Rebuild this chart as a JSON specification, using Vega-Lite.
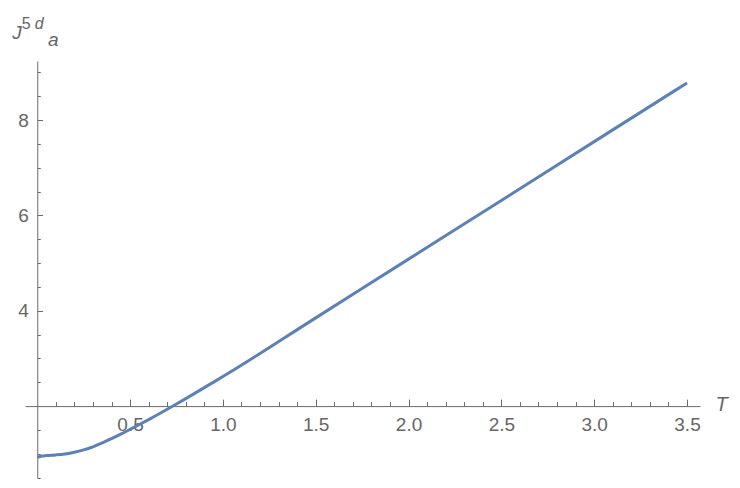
{
  "$schema": "https://vega.github.io/schema/vega-lite/v6.json",
  "width": 675,
  "height": 417,
  "autosize": {"type": "none"},
  "padding": {"left": 25, "top": 61, "right": 40, "bottom": 10},
  "background": "white",
  "config": {
    "view": {"stroke": null},
    "axis": {
      "grid": false,
      "labelFont": "Liberation Sans",
      "titleFont": "Liberation Sans",
      "labelColor": "#666666",
      "titleColor": "#666666",
      "domainColor": "#6b6b6b",
      "tickColor": "#6b6b6b",
      "domainWidth": 1,
      "tickWidth": 1,
      "titleFontWeight": "normal"
    }
  },
  "data": {
    "values": [
      {"T": 0, "J": 0.925},
      {"T": 0.02, "J": 0.948},
      {"T": 0.05, "J": 0.962},
      {"T": 0.1, "J": 0.975},
      {"T": 0.15, "J": 0.995},
      {"T": 0.2, "J": 1.03},
      {"T": 0.25, "J": 1.08},
      {"T": 0.3, "J": 1.145},
      {"T": 0.35, "J": 1.225},
      {"T": 0.4, "J": 1.315},
      {"T": 0.45, "J": 1.41},
      {"T": 0.5, "J": 1.51},
      {"T": 0.55, "J": 1.612},
      {"T": 0.6, "J": 1.716},
      {"T": 0.65, "J": 1.823},
      {"T": 0.7, "J": 1.932},
      {"T": 0.75, "J": 2.043},
      {"T": 0.8, "J": 2.156},
      {"T": 0.85, "J": 2.271},
      {"T": 0.9, "J": 2.387},
      {"T": 0.95, "J": 2.502},
      {"T": 1.0, "J": 2.618},
      {"T": 1.5, "J": 3.85},
      {"T": 2.0, "J": 5.083},
      {"T": 2.5, "J": 6.315},
      {"T": 3.0, "J": 7.548},
      {"T": 3.5, "J": 8.78}
    ]
  },
  "resolve": {"axis": {"x": "independent", "y": "independent"}},
  "layer": [
    {
      "mark": {"type": "line", "strokeOpacity": 0},
      "encoding": {
        "x": {"field": "T", "type": "quantitative", "scale": {"domain": [-0.066, 3.57], "nice": false, "zero": false},
          "axis": {"orient": "bottom", "offset": -71.9, "values": [0.1,0.2,0.3,0.4,0.6,0.7,0.8,0.9,1.1,1.2,1.3,1.4,1.6,1.7,1.8,1.9,2.1,2.2,2.3,2.4,2.6,2.7,2.8,2.9,3.1,3.2,3.3,3.4],
            "labels": false, "domain": false, "tickSize": -4.5,
            "title": "a", "titleFontSize": 19, "titleFontStyle": "italic", "titleAngle": 0, "titleAlign": "left", "titleBaseline": "alphabetic", "titleX": 22.5, "titleY": -360.5}},
        "y": {"field": "J", "type": "quantitative", "scale": {"domain": [0.49, 9.24], "nice": false, "zero": false},
          "axis": {"orient": "left", "offset": -12.25, "values": [0.5,1,1.5,2.5,3,3.5,4.5,5,5.5,6.5,7,7.5,8.5,9],
            "labels": false, "domain": false, "tickSize": -3,
            "title": "5", "titleFontSize": 16, "titleAngle": 0, "titleAlign": "left", "titleBaseline": "alphabetic", "titleX": -16, "titleY": -32.7}}
      }
    },
    {
      "mark": {"type": "line", "strokeOpacity": 0},
      "encoding": {
        "x": {"field": "T", "type": "quantitative", "axis": null},
        "y": {"field": "J", "type": "quantitative",
          "axis": {"orient": "left", "offset": -12.25, "values": [], "labels": false, "domain": false, "ticks": false,
            "title": "d", "titleFontSize": 16, "titleFontStyle": "italic", "titleAngle": 0, "titleAlign": "left", "titleBaseline": "alphabetic", "titleX": -3, "titleY": -32.7}}
      }
    },
    {
      "mark": {"type": "line", "color": "#5e81b5", "strokeWidth": 3, "interpolate": "monotone"},
      "encoding": {
        "x": {"field": "T", "type": "quantitative",
          "axis": {"orient": "bottom", "offset": -71.9, "values": [0.5,1,1.5,2,2.5,3,3.5], "format": ".1f",
            "tickSize": -7, "labelPadding": 16.3, "labelFontSize": 19,
            "title": "T", "titleFontSize": 20, "titleFontStyle": "italic", "titleAngle": 0, "titleAlign": "left", "titleBaseline": "alphabetic", "titleX": 690, "titleY": 4}},
        "y": {"field": "J", "type": "quantitative",
          "axis": {"orient": "left", "offset": -12.25, "values": [4,6,8], "format": "d",
            "tickSize": -5.3, "labelPadding": 14.3, "labelFontSize": 19,
            "title": "J", "titleFontSize": 19, "titleFontStyle": "italic", "titleAngle": 0, "titleAlign": "left", "titleBaseline": "alphabetic", "titleX": -25.5, "titleY": -22.7}}
      }
    }
  ]
}
